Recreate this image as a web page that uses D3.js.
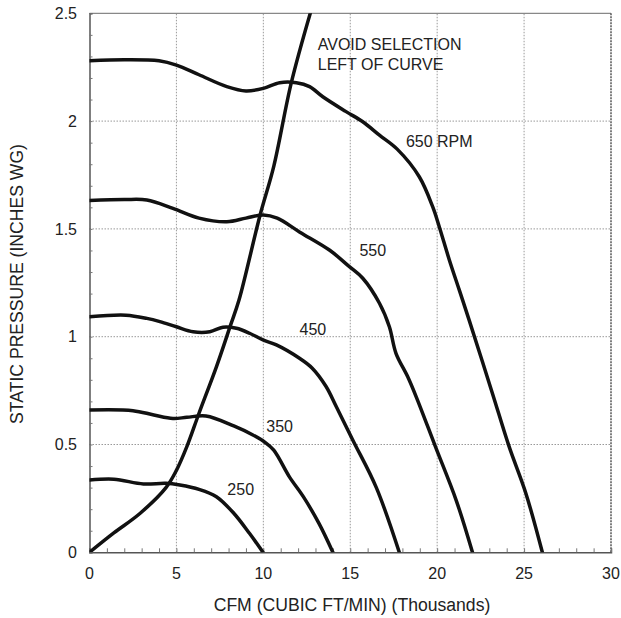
<!DOCTYPE html>
<html><head><meta charset="utf-8">
<script src="https://cdn.jsdelivr.net/npm/d3@7"></script>
<style>body{margin:0;background:#fff;}text{font-family:"Liberation Sans",Arial,sans-serif;}</style>
</head><body>
<svg id="c" width="621" height="618"></svg>
<script>
const xTicks = [0,5,10,15,20,25,30];
const yTicks = [0,0.5,1,1.5,2,2.5];
const yTickLabels = ["0","0.5","1","1.5","2","2.5"];
const rpm650 = [[0,2.28],[2,2.285],[4,2.28],[5,2.26],[6.3,2.215],[7.9,2.16],[9,2.14],[10,2.152],[10.94,2.178],[11.9,2.178],[12.66,2.16],[13.42,2.113],[14.76,2.044],[15.72,1.997],[16.68,1.935],[17.7,1.87],[18.97,1.742],[19.74,1.603],[20.12,1.51],[20.7,1.356],[21.27,1.217],[21.84,1.077],[23.18,0.737],[24.14,0.49],[25.1,0.274],[26.05,0]];
const rpm550 = [[0,1.632],[2,1.636],[3.3,1.634],[4.8,1.595],[6.3,1.55],[7.9,1.533],[9,1.55],[10,1.565],[10.8,1.55],[12.1,1.485],[13.8,1.402],[14.95,1.325],[15.72,1.271],[16.68,1.155],[17.25,1.046],[17.63,0.923],[18.3,0.815],[18.8,0.72],[19.9,0.49],[21.1,0.24],[22.03,0]];
const rpm450 = [[0,1.093],[2.1,1.10],[3.3,1.085],[4.05,1.07],[5,1.046],[5.96,1.023],[6.92,1.023],[7.68,1.044],[8.45,1.039],[9.21,1.016],[9.98,0.985],[10.75,0.962],[12.08,0.9],[12.8,0.855],[13.6,0.77],[14.2,0.675],[15.15,0.52],[16.5,0.30],[17.82,0]];
const rpm350 = [[0,0.66],[2.5,0.657],[3.7,0.637],[4.8,0.621],[5.6,0.626],[6.7,0.632],[8.3,0.586],[9.4,0.544],[10.1,0.51],[10.6,0.474],[11.5,0.35],[12.3,0.258],[13.2,0.134],[14.0,0]];
const rpm250 = [[0,0.335],[1.4,0.339],[3.1,0.317],[4.4,0.32],[5.2,0.312],[6.3,0.292],[7.3,0.258],[8.3,0.181],[9.2,0.088],[9.98,0]];
const systemCurve = [[0,0],[1.4,0.09],[2.9,0.18],[4.4,0.30],[5.0,0.38],[5.6,0.49],[6.3,0.645],[7.3,0.86],[8.1,1.05],[8.6,1.17],[9.8,1.56],[10.6,1.79],[11.6,2.175],[12.7,2.5]];
const curveLabels = ["650 RPM","550","450","350","250"];
const curveLabelPos = [[18.2,1.905],[15.53,1.402],[12.08,1.036],[10.17,0.583],[7.93,0.292]];
const noteLines = ["AVOID SELECTION","LEFT OF CURVE"];
const notePos = [[13.13,2.356],[13.13,2.265]];

const svg = d3.select("#c");
const x = d3.scaleLinear().domain([0,30]).range([89.5,611]);
const y = d3.scaleLinear().domain([0,2.5]).range([552.3,13.3]);
const txt = "#222";

svg.append("clipPath").attr("id","pc").append("rect")
  .attr("x",x(0)).attr("y",y(2.5)).attr("width",x(30)-x(0)).attr("height",y(0)-y(2.5));

const g = svg.append("g");
g.selectAll(".vg").data(xTicks.filter(d=>d>0&&d<30)).enter().append("line")
  .attr("x1",d=>x(d)).attr("x2",d=>x(d)).attr("y1",y(0)).attr("y2",y(2.5))
  .attr("stroke","#999").attr("stroke-width",1).attr("stroke-dasharray","1.5,1.5");
g.selectAll(".hg").data(yTicks.filter(d=>d>0&&d<2.5)).enter().append("line")
  .attr("y1",d=>y(d)).attr("y2",d=>y(d)).attr("x1",x(0)).attr("x2",x(30))
  .attr("stroke","#999").attr("stroke-width",1).attr("stroke-dasharray","1.5,1.5");

svg.append("line").attr("x1",x(0)).attr("x2",x(30)).attr("y1",y(2.5)).attr("y2",y(2.5)).attr("stroke","#888").attr("stroke-width",1.3);
svg.append("line").attr("x1",x(30)).attr("x2",x(30)).attr("y1",y(2.5)).attr("y2",y(0)).attr("stroke","#555").attr("stroke-width",1.5).attr("stroke-dasharray","2,1");

const xAxis = d3.axisBottom(x).tickValues(d3.range(0,31,1)).tickSize(-4).tickFormat("");
const xa = svg.append("g").attr("transform",`translate(0,${y(0)})`).call(xAxis);
const yAxis = d3.axisLeft(y).tickValues(d3.range(0,26,1).map(d=>d/10)).tickSize(-3).tickFormat("");
const ya = svg.append("g").attr("transform",`translate(${x(0)},0)`).call(yAxis);
[xa,ya].forEach(a=>{a.select(".domain").attr("stroke","#555").attr("stroke-width",1.5);a.selectAll(".tick line").attr("stroke","#777");});

svg.selectAll(".xl").data(xTicks).enter().append("text")
  .attr("x",d=>x(d)).attr("y",573).attr("dy","0.35em").attr("text-anchor","middle")
  .attr("font-size",16).attr("fill",txt).text(d=>d);
svg.selectAll(".yl").data(yTicks).enter().append("text")
  .attr("x",77).attr("y",d=>y(d)).attr("dy","0.35em").attr("text-anchor","end")
  .attr("font-size",16).attr("fill",txt).text((d,i)=>yTickLabels[i]);

svg.append("text").attr("x",352).attr("y",605).attr("dy","0.35em").attr("text-anchor","middle")
  .attr("font-size",17.6).attr("fill",txt).text("CFM (CUBIC FT/MIN) (Thousands)");
svg.append("text").attr("transform","translate(17,284) rotate(-90)").attr("dy","0.35em").attr("text-anchor","middle")
  .attr("font-size",17.6).attr("fill",txt).text("STATIC PRESSURE (INCHES WG)");

const line = d3.line().x(d=>x(d[0])).y(d=>y(d[1])).curve(d3.curveCatmullRom.alpha(0.5));
const cg = svg.append("g").attr("clip-path","url(#pc)");
[rpm650,rpm550,rpm450,rpm350,rpm250,systemCurve].forEach(s=>{
  cg.append("path").attr("d",line(s)).attr("fill","none").attr("stroke","#111")
    .attr("stroke-width",3.5).attr("stroke-linejoin","round").attr("stroke-linecap","round");
});

svg.selectAll(".cl").data(curveLabels).enter().append("text")
  .attr("x",(d,i)=>x(curveLabelPos[i][0])).attr("y",(d,i)=>y(curveLabelPos[i][1])).attr("dy","0.35em")
  .attr("font-size",16).attr("fill",txt).text(d=>d);
svg.selectAll(".nl").data(noteLines).enter().append("text")
  .attr("x",(d,i)=>x(notePos[i][0])).attr("y",(d,i)=>y(notePos[i][1])).attr("dy","0.35em")
  .attr("font-size",16).attr("fill",txt).text(d=>d);
</script>
</body></html>
